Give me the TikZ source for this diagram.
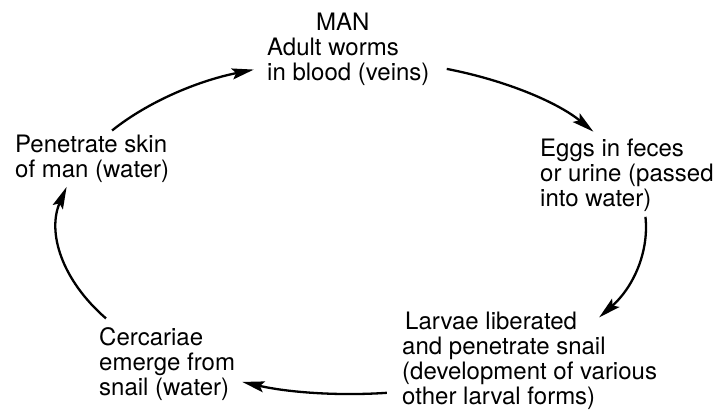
\documentclass[tikz,border=0pt]{standalone}
\usepackage{fontspec}
\setmainfont{TeX Gyre Heros}
\usetikzlibrary{arrows.meta,calc}
\begin{document}
\begin{tikzpicture}[x=1pt,y=-1pt,
  lbl/.style={anchor=base west, inner sep=0pt, align=left, font=\fontsize{24}{25}\selectfont},
  cyc/.style={line width=2.3pt, -{Stealth[length=22pt,width=11pt,inset=4pt]}}]
\useasboundingbox (0,0) rectangle (718,411);
\node[lbl] (man) at (267,81) {\hspace*{49pt}MAN\\Adult worms\\in blood (veins)};
\node[lbl] (eggs) at (540,207) {Eggs in feces\\or urine (passed\\into water)};
\node[lbl] (larvae) at (402,405) {\hspace*{3pt}Larvae liberated\\and penetrate snail\\(development of various\\other larval forms)};
\node[lbl] (cerc) at (99,396) {Cercariae\\emerge from\\snail (water)};
\node[lbl] (pen) at (15,178) {Penetrate skin\\of man (water)};
\coordinate (O) at (352,227);
% pen -> man
\draw[cyc] ($(O)+(144.7:294pt and 167pt)$) arc[start angle=144.7,end angle=109.5,x radius=294pt,y radius=167pt];
% man -> eggs
\draw[cyc] ($(O)+(71.2:294pt and 167pt)$) arc[start angle=71.2,end angle=34.8,x radius=294pt,y radius=167pt];
% eggs -> larvae
\draw[cyc] ($(O)+(3.5:294pt and 167pt)$) arc[start angle=3.5,end angle=-32.8,x radius=294pt,y radius=167pt];
% larvae -> cerc
\draw[cyc] ($(O)+(-83.2:294pt and 167pt)$) arc[start angle=-83.2,end angle=-111.9,x radius=294pt,y radius=167pt];
% cerc -> pen
\draw[cyc] ($(O)+(-146.8:294pt and 167pt)$) arc[start angle=-146.8,end angle=-193.9,x radius=294pt,y radius=167pt];
\end{tikzpicture}
\end{document}
